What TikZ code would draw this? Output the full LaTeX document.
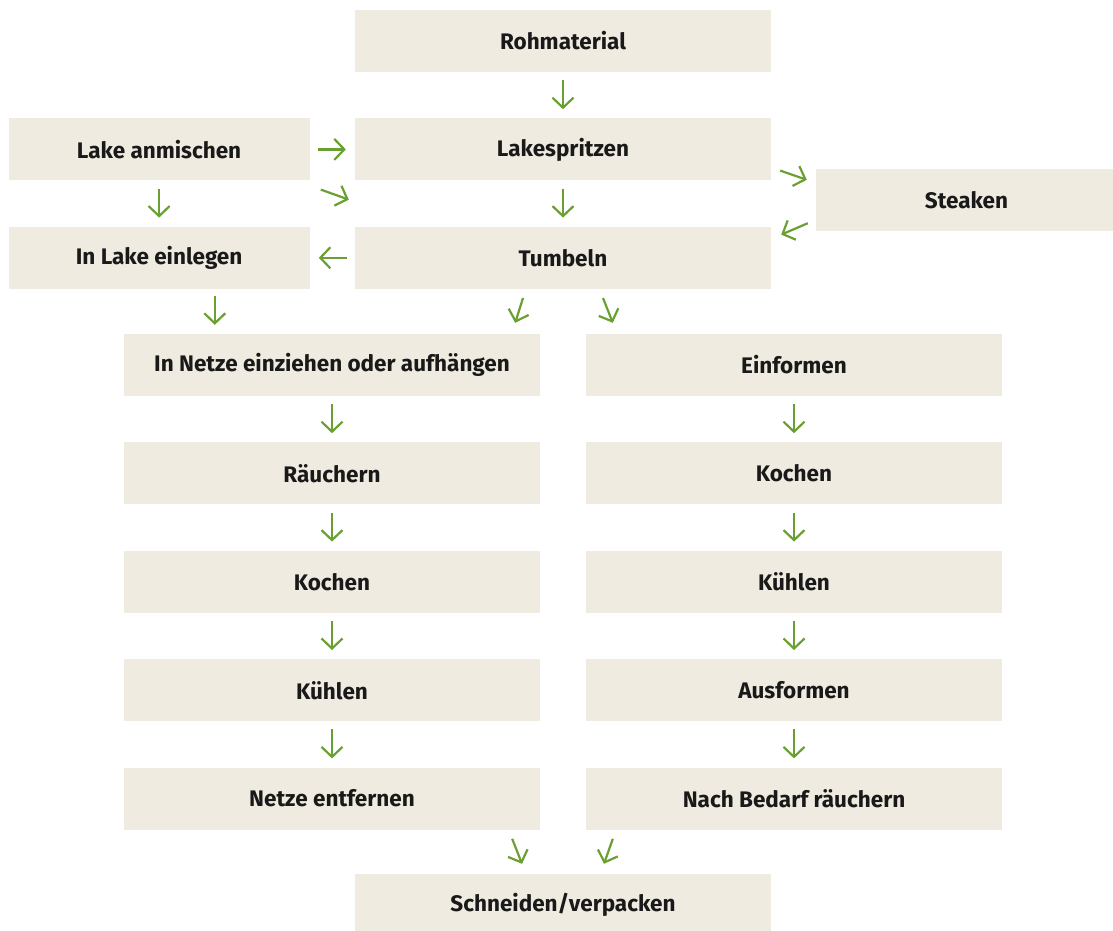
\documentclass[tikz,border=0pt]{standalone}
\usepackage{fontspec}
\setmainfont{Fira Sans}
\usetikzlibrary{arrows.meta,calc,positioning}
\definecolor{boxbg}{HTML}{EFEBE0}
\definecolor{pfeilgruen}{HTML}{6AA032}
\tikzset{
    x=1pt,y=-1pt,
    schritt/.style ={fill=boxbg, minimum width=416pt, minimum height=62pt, inner sep=0pt,
                     font=\bfseries\fontsize{22.5}{26}\selectfont, text=black!90},
    neben/.style = {schritt, minimum width=301pt},
    pfeil/.style = {-{Straight Barb[length=10pt,width=21pt]}, pfeilgruen, line width=2.2pt},
    kurz/.style = {shorten <=8pt, shorten >=9pt}
}
\begin{document}
\begin{tikzpicture}

    \clip (0,0) rectangle (1113,930);

    % mittlere Spalte oben
    \node[schritt] (rohmat) at (563,41) {Rohmaterial};
    \node[schritt] (lakespr) [below = 46pt of rohmat] {Lakespritzen};
    \node[schritt] (tumbeln) [below = 46pt of lakespr] {Tumbeln};

    % links und rechts daneben
    \node[neben] (lakeanm) [left = 45pt of lakespr] {Lake anmischen};
    \node[neben] (inlake) [left = 45pt of tumbeln] {In Lake einlegen};
    \node[neben] (steaken) at (966.5,200) {Steaken};

    % linker Zweig
    \node[schritt] (netze) at (332,365) {In Netze einziehen oder aufhängen};
    \node[schritt] (raeuchernL) [below = 46pt of netze] {Räuchern};
    \node[schritt] (kochenL) [below = 46pt of raeuchernL] {Kochen};
    \node[schritt] (kuehlenL) [below = 46pt of kochenL] {Kühlen};
    \node[schritt] (netzeent) [below = 46pt of kuehlenL] {Netze entfernen};

    % rechter Zweig
    \node[schritt] (einform) at (794,365) {Einformen};
    \node[schritt] (kochenR) [below = 46pt of einform] {Kochen};
    \node[schritt] (kuehlenR) [below = 46pt of kochenR] {Kühlen};
    \node[schritt] (ausform) [below = 46pt of kuehlenR] {Ausformen};
    \node[schritt] (nachbed) [below = 46pt of ausform] {Nach Bedarf räuchern};

    \node[schritt] (schneiden) at (563,905) {Schneiden/verpacken};

    % gerade Pfeile
    \draw[pfeil,kurz] (rohmat) -- (lakespr);
    \draw[pfeil,kurz] (lakespr) -- (tumbeln);
    \draw[pfeil,kurz] (lakeanm) -- (lakespr);
    \draw[pfeil,kurz] (lakeanm) -- (inlake);
    \draw[pfeil,kurz] (tumbeln) -- (inlake);
    \foreach \a/\b in {netze/raeuchernL, raeuchernL/kochenL, kochenL/kuehlenL, kuehlenL/netzeent,
                       einform/kochenR, kochenR/kuehlenR, kuehlenR/ausform, ausform/nachbed}
        \draw[pfeil,kurz] (\a) -- (\b);

    % schraege Pfeile
    \draw[pfeil] ($(lakeanm.south east)+(11,9)$) -- ($(tumbeln.north west)+(-6,-27)$);
    \draw[pfeil] ($(lakespr.south east)+(9,-10)$) -- ($(steaken.north west)+(-9,11)$);
    \draw[pfeil] ($(steaken.south west)+(-8,-8)$) -- ($(tumbeln.north east)+(10,8)$);
    \draw[pfeil] ($(inlake.south east)+(-95,7)$) -- ($(netze.north west)+(91,-9)$);
    \draw[pfeil] ($(tumbeln.south)+(-40,9)$) -- ($(netze.north east)+(-25,-11)$);
    \draw[pfeil] ($(tumbeln.south)+(40,9)$) -- ($(einform.north west)+(27,-11)$);
    \draw[pfeil] ($(netzeent.south east)+(-28,9)$) -- ($(schneiden.north)+(-41,-10)$);
    \draw[pfeil] ($(nachbed.south west)+(27,9)$) -- ($(schneiden.north)+(41,-10)$);

\end{tikzpicture}
\end{document}
